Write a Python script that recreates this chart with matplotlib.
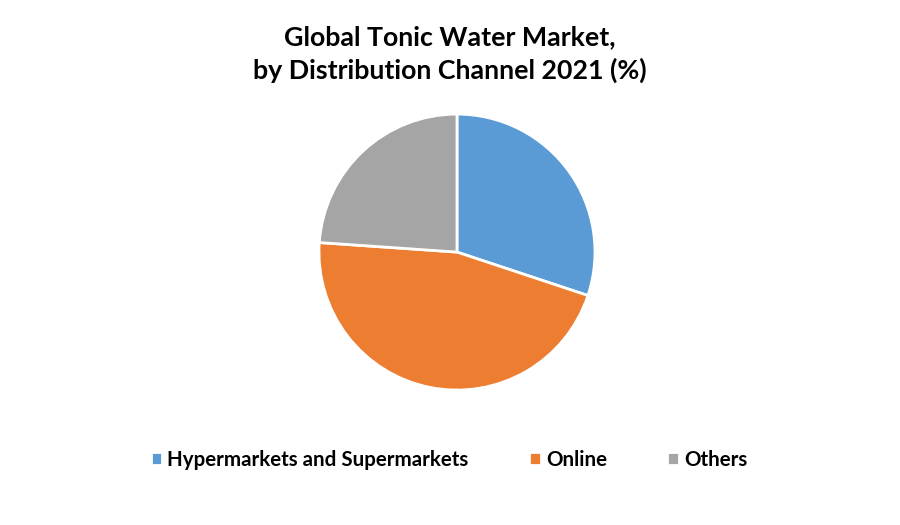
import matplotlib.pyplot as plt

channels = ["Hypermarkets and Supermarkets", "Online", "Others"]
shares = [30.1, 46.0, 23.9]
colors = ["#5b9bd5", "#ed7d31", "#a5a5a5"]

plt.rcParams['font.family'] = ['Lato', 'DejaVu Sans']

fig = plt.figure(figsize=(9, 5.25), dpi=100)
ax = fig.add_axes([0.3544, 0.257, 0.3067, 0.5257])

wedges, _ = ax.pie(shares, colors=colors, startangle=90, counterclock=False,
                   wedgeprops=dict(edgecolor="white", linewidth=2))
ax.set_xlim(-1, 1)
ax.set_ylim(-1, 1)
ax.set_aspect("equal")

fig.text(0.5, 0.897, "Global Tonic Water Market,\nby Distribution Channel 2021 (%)",
         ha="center", va="center", fontsize=19.3, fontweight="bold", linespacing=1.38)

fig.legend(wedges, channels, loc="center", bbox_to_anchor=(0.499, 0.124), ncol=3,
           frameon=False, prop=dict(size=14.8, weight="bold"),
           handlelength=0.55, handleheight=0.55, handletextpad=0.25, columnspacing=2.95)

plt.savefig("out.png", dpi=100)
